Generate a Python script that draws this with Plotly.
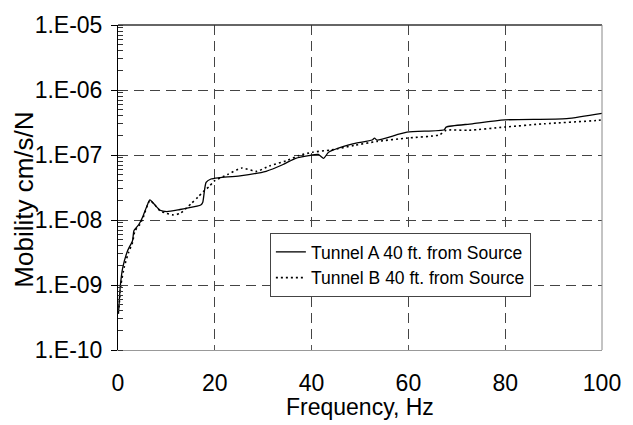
import plotly.graph_objects as go

# Frequency (Hz) and mobility (cm/s/N) for the two tunnel measurements
freq_a = [0.1, 0.3, 0.5, 0.95, 2.0, 3.0, 3.3, 4.3, 5.0, 6.0, 6.6, 7.4, 8.7, 10.1,
          12.8, 14.1, 17.1, 17.5, 18.2, 19.2, 20.9, 25.2, 30.6, 34.0, 36.7, 39.4,
          41.4, 42.5, 43.5, 48.5, 52.5, 53.0, 53.5, 59.7, 67.4, 67.8, 73.2, 79.9,
          92.7, 100.0]
mob_a = [3.6e-10, 6.3e-10, 1.0e-9, 1.8e-9, 3.4e-9, 4.8e-9, 6.9e-9, 8.5e-9, 1.07e-8,
         1.66e-8, 2.04e-8, 1.78e-8, 1.41e-8, 1.35e-8, 1.45e-8, 1.51e-8, 1.70e-8,
         1.86e-8, 3.8e-8, 4.27e-8, 4.47e-8, 4.79e-8, 5.62e-8, 7.08e-8, 8.9e-8,
         9.8e-8, 1.02e-7, 8.9e-8, 1.10e-7, 1.48e-7, 1.70e-7, 1.82e-7, 1.70e-7,
         2.24e-7, 2.45e-7, 2.69e-7, 3.02e-7, 3.47e-7, 3.63e-7, 4.37e-7]

freq_b = [0.2, 0.6, 1.3, 2.2, 3.0, 3.5, 4.5, 5.2, 6.6, 7.5, 8.7, 9.7, 11.4, 12.8,
          15.1, 16.5, 17.8, 18.8, 19.9, 22.6, 25.6, 28.6, 31.3, 34.7, 37.4, 40.1,
          44.1, 48.9, 53.6, 59.7, 66.4, 67.8, 72.5, 79.9, 88.0, 98.8, 100.0]
mob_b = [4.5e-10, 1.0e-9, 1.9e-9, 3.2e-9, 4.5e-9, 6.8e-9, 8.5e-9, 1.10e-8, 2.0e-8,
         1.74e-8, 1.38e-8, 1.29e-8, 1.20e-8, 1.26e-8, 1.78e-8, 2.24e-8, 2.82e-8,
         3.24e-8, 3.98e-8, 5.0e-8, 6.3e-8, 5.6e-8, 6.8e-8, 8.1e-8, 9.8e-8, 1.10e-7,
         1.20e-7, 1.41e-7, 1.62e-7, 1.82e-7, 2.04e-7, 2.40e-7, 2.40e-7, 2.69e-7,
         3.02e-7, 3.39e-7, 3.47e-7]

name_a = "Tunnel A 40 ft. from Source"
name_b = "Tunnel B 40 ft. from Source"

x_ticks = [0, 20, 40, 60, 80, 100]
y_ticks = [1e-10, 1e-9, 1e-8, 1e-7, 1e-6, 1e-5]
y_tick_text = ["1.E-10", "1.E-09", "1.E-08", "1.E-07", "1.E-06", "1.E-05"]

FONT = "Liberation Sans, Arial, sans-serif"

fig = go.Figure()
fig.add_trace(go.Scatter(x=freq_a, y=mob_a, mode="lines", name=name_a,
                         line=dict(color="black", width=1.3, shape="spline", smoothing=0.6)))
fig.add_trace(go.Scatter(x=freq_b, y=mob_b, mode="lines", name=name_b,
                         line=dict(color="black", width=1.6, dash="2px,3px",
                                   shape="spline", smoothing=0.6)))

grid_dash = "10px,6px"

fig.update_layout(
    width=633, height=425,
    margin=dict(l=118, r=21, t=17, b=75),
    paper_bgcolor="white", plot_bgcolor="white",
    font=dict(family=FONT, color="black", size=23),
    showlegend=True,
    legend=dict(x=0.3138, y=0.36, xanchor="left", yanchor="top",
                bgcolor="white", bordercolor="#444", borderwidth=1,
                font=dict(size=17.5, family=FONT), tracegroupgap=0,
                itemwidth=30),
    xaxis=dict(
        range=[0, 100], tickmode="array", tickvals=x_ticks,
        ticks="inside", ticklen=5, tickcolor="#555",
        showline=True, linecolor="#999", linewidth=1,
        showgrid=True, gridcolor="#444", gridwidth=1, griddash=grid_dash,
        zeroline=False, ticklabelstandoff=12,
        tickfont=dict(size=23, family=FONT),
    ),
    yaxis=dict(
        type="log", range=[-10, -5], tickmode="array",
        tickvals=y_ticks, ticktext=y_tick_text,
        ticks="outside", ticklen=6, tickcolor="black",
        minor=dict(ticks="inside", ticklen=5, tickcolor="#333", dtick="D1", showgrid=False),
        showline=True, linecolor="black", linewidth=1,
        showgrid=True, gridcolor="#444", gridwidth=1, griddash=grid_dash,
        zeroline=False, ticklabelstandoff=4,
        tickfont=dict(size=23, family=FONT),
    ),
    annotations=[
        dict(text="Frequency, Hz", xref="paper", yref="paper", x=0.5, y=(350 - 408) / 333,
             xanchor="center", yanchor="middle", showarrow=False,
             font=dict(size=23, family=FONT)),
        dict(text="Mobility cm/s/N", xref="paper", yref="paper",
             x=(22 - 118) / 494, y=(350 - 196) / 333, textangle=-90,
             xanchor="center", yanchor="middle", showarrow=False,
             font=dict(size=26, family=FONT)),
    ],
    shapes=[
        dict(type="line", xref="paper", yref="paper", x0=0, x1=1, y0=1, y1=1,
             line=dict(color="#333", width=1.5)),
        dict(type="line", xref="paper", yref="paper", x0=1, x1=1, y0=0, y1=1,
             line=dict(color="#888", width=1)),
    ],
)

fig.write_html("out.html")
